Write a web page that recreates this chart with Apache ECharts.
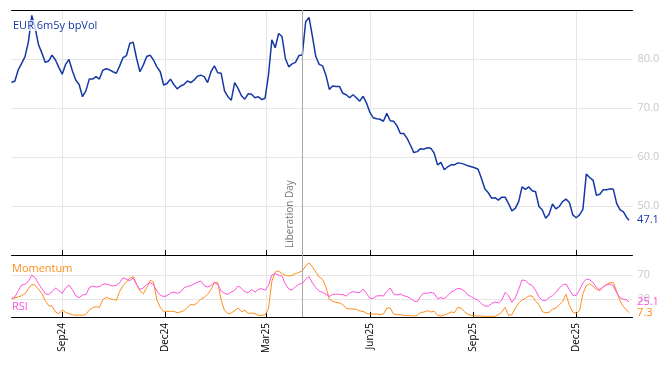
<!DOCTYPE html>
<html><head><meta charset="utf-8">
<script src="https://cdn.jsdelivr.net/npm/echarts@6/dist/echarts.min.js"></script>
<style>html,body{margin:0;padding:0;background:#fff}#c{width:668px;height:366px}</style>
</head><body><div id="c"></div>
<script>
// ---- data ----
const axisStartDate = '2024-07-18';
const axisEndDate = '2026-01-20';
const sampleStepDays = 3;
const lastSampleDate = '2026-01-17';
const tickDates = ['2024-09-01','2024-12-01','2025-03-01','2025-06-01','2025-09-01','2025-12-01'];
const tickLabels = ['Sep24','Dec24','Mar25','Jun25','Sep25','Dec25'];
const eventDate = '2025-04-02';
const eventLabel = 'Liberation Day';
const volName = 'EUR 6m5y bpVol';
const oscTicks = [30, 70];

const volValues = [
75.2,75.5,77.8,79.1,80.5,83.5,88.9,86.3,82.9,81.2,79.3,79.6,80.8,79.8,78.3,76.9,78.9,79.9,77.6,75.7,
74.8,72.3,73.5,75.9,75.9,76.4,75.9,77.7,78.0,77.8,77.4,77.1,78.6,80.3,80.7,83.2,83.4,80.1,77.4,78.8,
80.5,80.8,79.8,78.4,77.4,74.7,75.0,75.9,74.8,73.9,74.5,74.8,75.5,75.2,75.7,76.5,76.7,76.4,75.2,77.4,
78.6,77.2,77.1,73.5,72.3,71.6,75.2,74.0,72.5,71.8,72.9,72.8,72.1,72.3,71.7,72.0,76.7,83.9,82.3,85.2,
84.6,80.1,78.4,79.0,79.3,80.7,80.8,87.6,88.5,84.6,80.5,78.9,78.6,76.7,73.8,74.5,74.4,74.4,73.0,72.7,
72.1,72.7,72.1,71.4,72.4,71.0,69.1,68.0,67.8,67.7,67.3,68.9,67.4,67.3,66.4,64.8,64.8,63.8,62.4,60.9,
61.1,61.7,61.6,61.9,61.8,60.8,58.4,58.9,57.4,58.0,58.4,58.4,58.8,58.7,58.5,58.2,58.0,57.8,57.5,55.6,
53.5,52.7,51.6,51.7,51.2,51.8,51.8,50.5,49.0,49.5,50.9,53.9,53.4,53.9,53.1,52.9,49.9,49.2,47.5,48.3,
50.4,49.4,49.9,50.9,51.4,50.7,48.2,47.6,48.2,49.3,56.5,55.8,55.3,52.2,52.4,53.3,53.3,53.5,53.4,50.5,
49.2,48.8,47.6,47.1
];
const momentumValues = [
30.8,31.9,33.6,35.8,39.1,47.5,54.8,53.1,46.4,39.1,27.4,19.0,18.5,8.4,5.6,11.7,7.8,5.6,3.9,2.8,
3.4,2.8,4.5,11.7,15.7,17.3,16.2,29.1,33.0,30.8,29.6,28.0,43.1,52.6,58.7,65.4,67.7,54.8,43.6,39.1,
49.2,61.5,58.7,28.5,16.2,8.9,9.5,9.5,9.5,7.3,8.4,10.6,16.2,21.3,20.1,24.0,29.6,33.0,38.0,45.9,
57.6,57.6,28.0,11.2,5.6,6.7,10.6,15.1,8.9,11.2,6.2,6.7,5.6,2.8,2.8,3.4,14.0,59.8,75.5,77.2,
72.7,69.9,68.8,69.9,72.7,74.9,77.2,85.6,90.6,83.9,75.5,67.1,63.2,50.3,29.6,26.3,24.6,23.5,20.7,14.5,
13.4,13.4,12.9,10.1,9.5,6.2,5.0,5.0,5.0,3.9,5.0,15.1,15.1,5.0,3.9,3.9,2.8,2.8,2.2,1.7,
2.8,7.3,8.4,10.6,8.4,9.5,2.8,1.7,3.4,5.6,8.4,7.3,16.2,14.5,8.9,4.5,2.8,1.7,1.7,1.7,
1.1,1.1,1.1,1.1,3.9,8.4,16.2,2.8,3.9,14.5,22.9,28.5,31.3,35.2,35.2,26.8,20.7,9.0,7.0,8.0,
13.0,15.0,20.0,26.0,38.0,19.6,8.4,6.2,10.6,39.1,52.6,55.9,51.5,46.4,44.2,50.3,54.8,57.6,57.6,43.1,
26.8,17.3,11.2,7.3
];
const rsiValues = [
30.8,33.6,44.2,53.7,54.8,59.8,70.0,66.0,55.9,47.5,39.1,37.5,42.5,48.7,44.2,39.7,48.7,53.7,45.9,35.8,
32.4,36.9,37.5,49.2,52.0,50.3,50.9,54.8,55.4,53.7,52.0,53.1,57.6,66.0,63.2,61.0,65.4,54.3,46.4,48.7,
54.8,57.6,54.3,43.6,36.9,34.1,35.8,39.7,41.9,39.7,41.9,48.7,51.5,52.6,55.4,58.2,60.4,52.6,50.3,53.1,
58.2,54.3,43.6,39.7,38.0,41.9,44.7,52.0,48.1,42.5,40.8,45.9,41.9,46.4,47.5,44.7,53.1,70.5,72.7,69.9,
68.2,55.4,47.0,45.3,50.9,54.8,56.5,63.2,67.7,57.0,49.2,43.1,41.4,38.0,34.7,38.0,38.6,38.0,37.5,35.2,
40.3,42.5,41.4,40.8,47.0,39.7,31.3,31.3,35.2,35.8,35.2,43.1,48.7,38.6,36.9,38.6,35.8,34.1,31.3,26.8,
25.7,35.2,40.3,39.7,41.4,39.7,30.8,32.4,30.8,35.8,41.9,44.7,48.1,47.0,43.6,36.9,34.1,30.8,28.0,22.4,
18.5,17.9,22.4,25.2,24.0,28.0,41.4,35.8,24.6,31.9,46.4,62.1,61.0,55.4,53.1,44.7,33.6,27.9,27.4,32.4,
35.8,40.8,48.7,53.7,55.4,45.9,36.4,36.4,45.3,57.0,63.8,62.6,57.6,49.8,45.9,50.9,53.7,55.4,52.0,40.3,
32.4,29.6,28.5,25.1
];

// ---- helpers ----
function addDays(iso, n) {
  const d = new Date(iso + 'T00:00:00Z');
  d.setUTCDate(d.getUTCDate() + n);
  return d.toISOString().slice(0, 10);
}
const days = [];
for (let d = axisStartDate, i = 0; d <= axisEndDate; i++, d = addDays(axisStartDate, i)) days.push(d);
function sampleDate(i, n) { return i === n - 1 ? lastSampleDate : addDays(axisStartDate, i * sampleStepDays); }
function pairs(vals) { return vals.map((v, i) => [sampleDate(i, vals.length), v]); }
const isTick = (idx, val) => tickDates.indexOf(val) >= 0;
const tickText = v => { const i = tickDates.indexOf(v); return i >= 0 ? tickLabels[i] : ''; };

const FONT = 'Open Sans';
const BLUE = '#1538a6', ORANGE = '#ff8c1a', PINK = '#ff52d9';
const GRID_C = '#e6e6e6';

const xBase = {
  type: 'category', data: days, boundaryGap: false,
  axisLine: { show: true, lineStyle: { color: '#000', width: 1 } },
  axisTick: { show: true, inside: true, length: 5, interval: isTick, lineStyle: { color: '#000' } },
  axisLabel: { show: false },
  splitLine: { show: true, interval: isTick, lineStyle: { color: GRID_C, width: 1 } }
};

const chart = echarts.init(document.getElementById('c'), null, { renderer: 'canvas' });
chart.setOption({
  animation: false,
  backgroundColor: '#fff',
  title: [
    { text: volName, left: 12, top: 20, padding: [0, 1, 0, 1], backgroundColor: 'rgba(255,255,255,0.75)',
      textStyle: { color: BLUE, fontSize: 11, fontWeight: 'normal', fontFamily: FONT } },
    { text: 'Momentum', left: 12, top: 263, padding: 0,
      textStyle: { color: ORANGE, fontSize: 11, fontWeight: 'normal', fontFamily: FONT } },
    { text: 'RSI', left: 12, top: 301, padding: 0,
      textStyle: { color: PINK, fontSize: 11, fontWeight: 'normal', fontFamily: FONT } }
  ],
  grid: [
    { left: 11.5, width: 621, top: 10, height: 245 },
    { left: 11.5, width: 621, top: 255, height: 62 }
  ],
  xAxis: [
    Object.assign({}, xBase, { gridIndex: 0, position: 'bottom' }),
    Object.assign({}, xBase, { gridIndex: 0, position: 'top', axisTick: { show: false }, splitLine: { show: false } }),
    Object.assign({}, xBase, { gridIndex: 1, position: 'bottom',
      axisLabel: { show: true, interval: isTick, rotate: 90, formatter: tickText, color: '#000',
        fontSize: 10, fontFamily: FONT, margin: 6 } })
  ],
  yAxis: [
    { type: 'value', gridIndex: 0, position: 'right', min: 40, max: 90, interval: 10,
      axisLine: { show: false }, axisTick: { show: false },
      axisLabel: { showMinLabel: false, showMaxLabel: false, color: '#c8c8c8', fontSize: 11, fontFamily: FONT,
        margin: 5, formatter: v => v.toFixed(1) },
      splitLine: { show: true, lineStyle: { color: GRID_C } } },
    { type: 'value', gridIndex: 1, position: 'right', min: 0, max: 104,
      axisLine: { show: false }, axisTick: { show: false, customValues: oscTicks },
      axisLabel: { customValues: oscTicks, color: '#c8c8c8', fontSize: 11, fontFamily: FONT, margin: 5 },
      splitLine: { show: true, lineStyle: { color: GRID_C } } }
  ],
  series: [
    { name: volName, type: 'line', xAxisIndex: 0, yAxisIndex: 0, data: pairs(volValues),
      showSymbol: false, symbol: 'none', z: 3,
      lineStyle: { color: BLUE, width: 1.5 }, itemStyle: { color: BLUE },
      endLabel: { show: true, formatter: p => p.value[1].toFixed(1), color: BLUE, fontSize: 11, fontFamily: FONT, distance: 8 },
      markLine: { silent: true, symbol: 'none', animation: false,
        lineStyle: { color: '#a8a8a8', type: 'solid', width: 1 },
        label: { show: true, formatter: eventLabel, position: 'insideStartTop', color: '#777', fontSize: 10, fontFamily: FONT, distance: 7 },
        data: [{ xAxis: eventDate }] } },
    { name: 'Momentum', type: 'line', xAxisIndex: 2, yAxisIndex: 1, data: pairs(momentumValues),
      showSymbol: false, symbol: 'none', z: 3,
      lineStyle: { color: ORANGE, width: 1 }, itemStyle: { color: ORANGE },
      endLabel: { show: true, formatter: p => p.value[1].toFixed(1), color: ORANGE, fontSize: 11, fontFamily: FONT, distance: 8 },
      markLine: { silent: true, symbol: 'none', animation: false,
        lineStyle: { color: '#a8a8a8', type: 'solid', width: 1 }, label: { show: false },
        data: [{ xAxis: eventDate }] } },
    { name: 'RSI', type: 'line', xAxisIndex: 2, yAxisIndex: 1, data: pairs(rsiValues),
      showSymbol: false, symbol: 'none', z: 3,
      lineStyle: { color: PINK, width: 1 }, itemStyle: { color: PINK },
      endLabel: { show: true, formatter: p => p.value[1].toFixed(1), color: PINK, fontSize: 11, fontFamily: FONT, distance: 8 } }
  ]
});
</script>
</body></html>
